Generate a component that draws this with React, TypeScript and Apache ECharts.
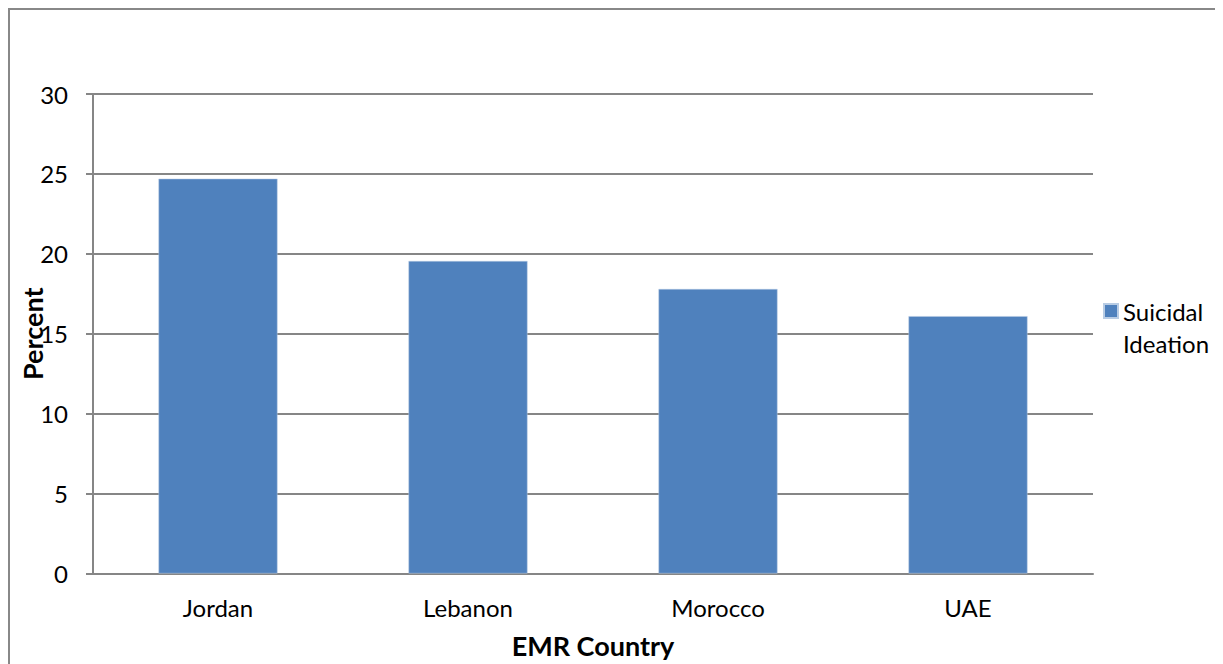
import React, { useEffect, useRef } from "react";
import * as echarts from "echarts";

const categories = ["Jordan", "Lebanon", "Morocco", "UAE"];
const suicidalIdeation = [24.7, 19.55, 17.8, 16.1];
const seriesName = "Suicidal Ideation";

export default function App() {
  const ref = useRef<HTMLDivElement>(null);
  useEffect(() => {
    if (!ref.current) return;
    const chart = echarts.init(ref.current, null, { renderer: "svg" });
    const font = "Lato, 'Noto Sans', sans-serif";
    chart.setOption({
      animation: false,
      graphic: [
        {
          type: "rect",
          shape: { x: 1, y: 1, width: 1400, height: 800 },
          style: { fill: "none", stroke: "#888888", lineWidth: 2 },
          silent: true,
        },
      ],
      legend: {
        left: 1095,
        top: 255,
        padding: 0,
        orient: "vertical",
        itemWidth: 14,
        itemHeight: 14,
        icon: "rect",
        formatter: () => " \nSuicidal\nIdeation",
        textStyle: {
          fontFamily: font,
          fontSize: 24,
          color: "#000",
          lineHeight: 32,
        },
        data: [seriesName],
      },
      grid: {
        left: 85,
        right: 130,
        top: 86,
        bottom: 90.5,
        containLabel: false,
        outerBoundsMode: "none",
      },
      xAxis: {
        type: "category",
        data: categories,
        axisLine: { lineStyle: { color: "#868686", width: 2 } },
        axisTick: { show: false },
        axisLabel: { fontFamily: font, fontSize: 24, color: "#000", margin: 22 },
        name: "EMR Country",
        nameLocation: "middle",
        nameGap: 58,
        nameMoveOverlap: false,
        nameTextStyle: { fontFamily: font, fontSize: 27, fontWeight: "bold", color: "#000" },
      },
      yAxis: {
        type: "value",
        min: 0,
        max: 30,
        interval: 5,
        axisLine: { show: true, lineStyle: { color: "#868686", width: 2 } },
        axisTick: { show: true, length: 7, lineStyle: { color: "#868686", width: 2 } },
        splitLine: { lineStyle: { color: "#868686", width: 2 } },
        axisLabel: { fontFamily: font, fontSize: 24, color: "#000", margin: 25 },
        name: "Percent",
        nameLocation: "middle",
        nameGap: 47,
        nameMoveOverlap: false,
        nameTextStyle: { fontFamily: font, fontSize: 27, fontWeight: "bold", color: "#000" },
      },
      series: [
        {
          name: seriesName,
          type: "bar",
          data: suicidalIdeation,
          barWidth: 119,
          itemStyle: { color: "#4F81BD", borderColor: "#B8CCE4", borderWidth: 0.5 },
        },
      ],
    });
    return () => chart.dispose();
  }, []);
  return <div ref={ref} style={{ width: 1215, height: 656 }} />;
}
